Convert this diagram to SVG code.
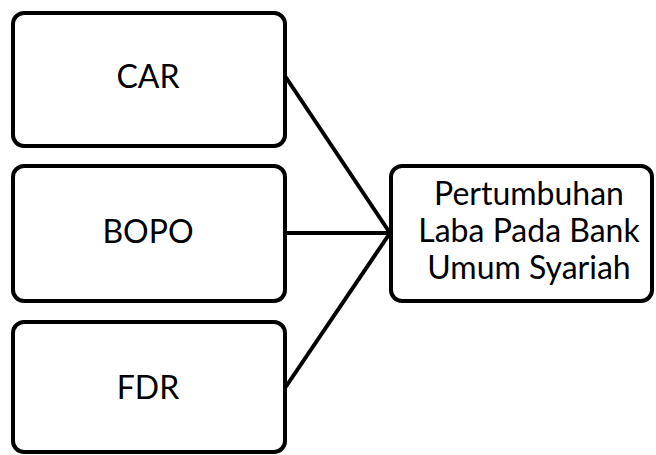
<svg xmlns="http://www.w3.org/2000/svg" width="656" height="455" viewBox="0 0 656 455">
<style>
.box{fill:#fff;stroke:#000;stroke-width:4}
.lbl{font-family:Lato,"Open Sans",sans-serif;font-size:32px;fill:#000;text-anchor:middle}
.con{stroke:#000;stroke-width:4;fill:none}
</style>
<rect width="656" height="455" fill="#fff"/>
<g id="connectors">
<line class="con" x1="285" y1="76" x2="390" y2="233"/>
<line class="con" x1="285" y1="233" x2="390" y2="233"/>
<line class="con" x1="285" y1="388" x2="390" y2="233"/>
</g>
<g id="car">
<rect class="box" x="13" y="13" width="272" height="133" rx="11"/>
<text class="lbl" x="148" y="88">CAR</text>
</g>
<g id="bopo">
<rect class="box" x="13" y="166" width="272" height="135" rx="11"/>
<text class="lbl" x="148" y="243">BOPO</text>
</g>
<g id="fdr">
<rect class="box" x="13" y="322" width="272" height="130" rx="11"/>
<text class="lbl" x="148" y="399">FDR</text>
</g>
<g id="laba">
<rect class="box" x="391" y="166" width="261" height="135" rx="11"/>
<text class="lbl" x="529" y="205">Pertumbuhan</text>
<text class="lbl" x="529" y="242">Laba Pada Bank</text>
<text class="lbl" x="529" y="279">Umum Syariah</text>
</g>
</svg>
